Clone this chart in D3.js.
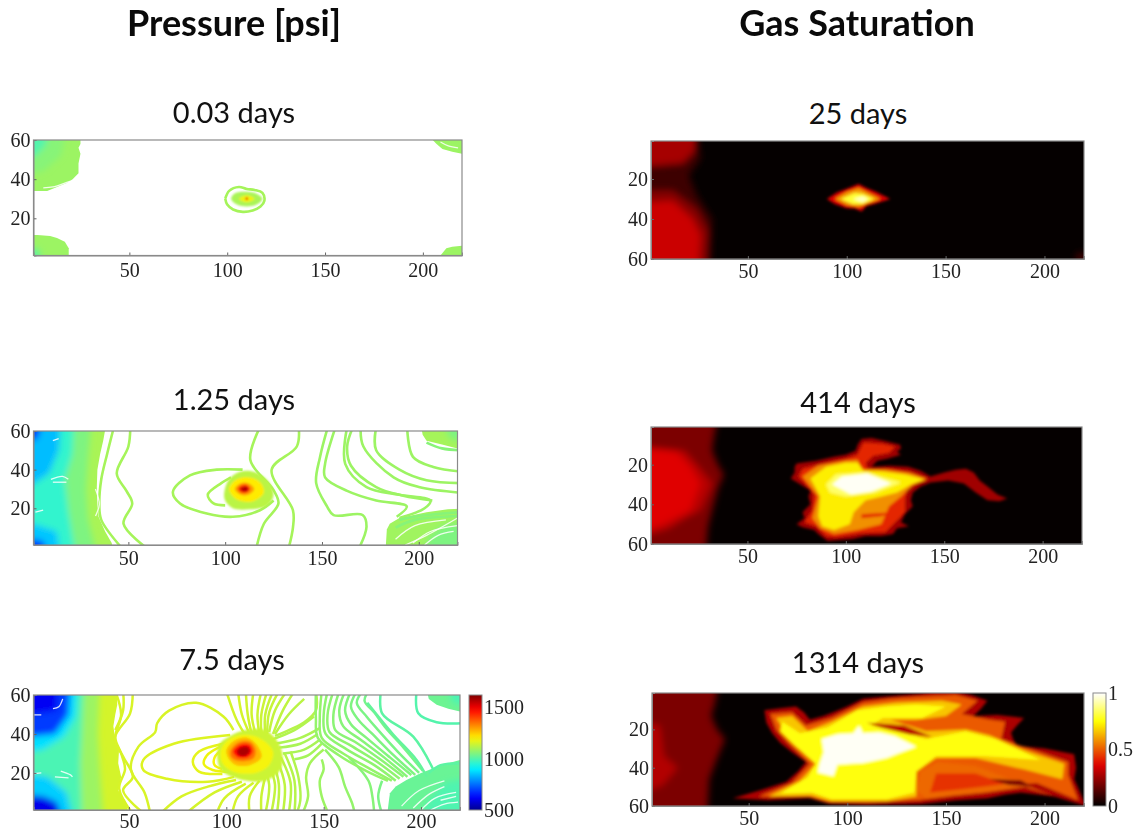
<!DOCTYPE html>
<html><head><meta charset="utf-8">
<script src="https://cdnjs.cloudflare.com/ajax/libs/d3/7.8.5/d3.min.js"></script>
<style>html,body{margin:0;background:#fff}svg{display:block}</style></head>
<body><svg id="c" width="1135" height="833"></svg>
<script>
// ---------- DATA (all in grid cell coordinates) ----------
const columnTitles = ["Pressure [psi]", "Gas Saturation"];
const panelTitles = ["0.03 days", "1.25 days", "7.5 days", "25 days", "414 days", "1314 days"];
const xTicks = [50, 100, 150, 200];
const pressureYTicks = [20, 40, 60];
const saturationYTicks = [20, 40, 60];
const pressureBarTicks = [500, 1000, 1500];
const saturationBarTicks = [0, 0.5, 1];

// [level, polygon]: base = crisp outer regions, soft = smooth field, sharp = crisper regions
const p1Base = [
  [1085, [[-6,66],[25,66],[25,58],[24,56],[25,53],[24,48],[24,43],[21,40],[18,38],[13,36],[8,34],[-6,34]]],
  [1085, [[-6,-6],[19,-6],[19,4.7],[17,8],[13,10],[9.5,11],[3,11.5],[-6,11.5]]],
  [1085, [[205,66],[226,66],[226,53],[220,53],[215,54],[210,55.4],[207,58],[205,60]]],
  [1085, [[209,-6],[226,-6],[226,6],[220,6],[215,5.5],[212,4.7],[209,1]]]
];
const p1Soft = [
  [1060, [[-6,66],[18,66],[15,52],[6,44],[-6,42]]],
  [1000, [[-6,66],[9,66],[7,57],[2,52],[-6,50]]],
  [1020, [[-6,-6],[5,-6],[4,4],[-6,6]]]
];
const p1Sharp = [
  [1100, [[102,30],[104,32.8],[110,33.6],[115,32.6],[118,30],[115,27],[110,26],[105,27]]],
  [1180, [[106,30],[110,31.8],[114,30],[110,28.2]]],
  [1500, [[109.3,30],[110,30.7],[110.7,30],[110,29.3]]]
];
const p1Lines = [
  [1095, [[99,30],[101,34],[106,36],[110,35],[114,34.5],[118,33],[119,29],[117,26],[113,24],[108,23.3],[103,24.5],[100,27],[99,30]]]
];
const p1Streaks = [
  [[6,35.5],[11,36],[17,38],[20,39]], [[209,59],[213,57],[218,56]]
];

const p2Base = [
  [1100, [[-6,66],[39,66],[37,55],[35.4,48],[34,40],[33.7,31],[34,22],[34.6,15.6],[38,8],[41.4,2],[43,-6],[-6,-6]]],
  [1095, [[200.6,66],[226,66],[226,51],[220,51],[212,53],[204,55],[202,58]]],
  [1090, [[182.6,-6],[226,-6],[226,20],[215,19.5],[204,18],[190,15],[185,12],[183.5,9]]]
];
const p2Soft = [
  [1050, [[-6,66],[31,66],[29,45],[28,30],[29,15],[34,-6],[-6,-6]]],
  [960,  [[-6,66],[22,66],[21,48],[17,35],[19,18],[23,-6],[-6,-6]]],
  [840,  [[-6,66],[15,66],[14,50],[9,38],[-6,28]]],
  [850,  [[-6,-6],[15,-6],[13,8],[-6,14]]],
  [680,  [[-6,66],[6,66],[3,56],[-6,53]]],
  [670,  [[-6,-6],[9,-6],[6,3],[-6,5]]],
  [1050, [[212,66],[226,66],[226,54],[216,56]]],
  [1050, [[203,-6],[226,-6],[226,13],[212,11],[205,5]]]
];
const p2Sharp = [
  [1120, [[99.5,28],[102,35],[108,39],[116,38.5],[123,33],[125,27],[122,21.5],[113,19.5],[104,20],[100,24]]],
  [1210, [[102,30],[106,35],[112,36],[118,33.5],[120,28],[114,23.5],[106,24.5]]],
  [1300, [[105,30],[108,33],[112,33],[115,30],[112,27],[108,27]]],
  [1420, [[106.5,30],[108.5,32],[111,32.2],[113,30],[111,28],[108.5,28]]],
  [1560, [[107.8,30],[109.5,31.2],[111,31.2],[112,30],[111,28.8],[109.5,28.8]]]
];
const p2Lines = [
  [1095, [[42,60],[39,48],[36,35],[35,22],[36,14],[47,-1]]],
  [1095, [[51,62],[50,52],[44,38],[49,29],[52,22.5],[47.5,12],[60,-1]]],
  [1095, [[109,40],[95.6,40],[81.8,37],[73,28.5],[76.7,22.5],[90.5,17.3],[104,15.6],[118,19],[125,24]]],
  [1100, [[103,36],[98,33],[91,27],[94,22.5],[100,21.5]]],
  [1095, [[118,62],[113,45],[125,29.4],[127.5,22.5],[120,12],[116,-1]]],
  [1095, [[138,62],[137,52],[124,40],[135,19],[135,10],[132.7,-1]]],
  [1085, [[153,62],[149,46.6],[147,33],[152.6,21],[156,16.5],[171,16.5],[173,10.4],[169,-1]]],
  [1085, [[157,62],[151.6,43],[151.6,36],[163,29],[178,24],[193.8,21],[188.6,15.6]]],
  [1085, [[163,62],[162,43],[173,31],[190,27],[206,24],[203,20],[190,15]]],
  [1085, [[166,62],[163,52],[165,42],[178,31],[192,26.5],[207,24]]],
  [1085, [[170,62],[171.4,52],[187,36],[200,31],[222,28]]],
  [1085, [[178,62],[178,50],[190,40],[204,34.5],[222,33]]],
  [1085, [[194,62],[197,46.6],[207.5,41.4],[222,39]]],
  [1060, [[190,14],[200,16],[222,18]]],
  [1060, [[188,10],[198,14],[222,16]]],
  [1060, [[204,54],[212,51],[222,50]]]
];
const p2Streaks = [
  [[11,55],[14,56]], [[10,35],[16,36.5],[19,35]], [[11,33.5],[18,33.5]], [[2,18],[6,19]],
  [[33,30],[35,22],[33,16]], [[197,2],[206,8],[220,11]], [[193,1],[204,6],[220,15]],
  [[203,1],[210,6],[218,8]], [[188,4],[198,11],[214,14]]
];

const p3Base = [
  [1150, [[-6,66],[43.6,66],[44,55],[43,50],[42,44],[42.8,38.6],[45,33],[44.5,25],[46,18],[44.5,11],[48,6],[51.5,-6],[-6,-6]]],
  [1030, [[202,66],[226,66],[226,51.5],[220,51.5],[214,53],[208,55],[204,58]]],
  [1025, [[182,-6],[226,-6],[226,26.7],[220,26.7],[214,25],[208,23],[200,20],[192.5,16.4],[187,13],[184,9.6]]]
];
const p3Soft = [
  [1085, [[-6,66],[35,66],[34,40],[35,22],[37,-6],[-6,-6]]],
  [990,  [[-6,66],[27,66],[26,45],[25,25],[26,-6],[-6,-6]]],
  [880,  [[-6,66],[23.6,66],[22.7,49],[16.6,38.6],[6,32],[-6,30]]],
  [860,  [[-6,-6],[22,-6],[18,10],[8,18],[-6,20]]],
  [690,  [[-6,66],[20,66],[19,50],[12,40],[-6,38]]],
  [610,  [[-6,66],[14,66],[13,52],[-6,49]]],
  [600,  [[-6,-6],[16.7,-6],[13,5],[6,8],[-6,9]]],
  [990,  [[214,66],[226,66],[226,54],[216,56]]],
  [995,  [[198,-6],[226,-6],[226,18],[212,15],[204,6]]]
];
const p3Sharp = [
  [1140, [[96,34],[102,39],[110,42],[120,42],[128,33],[128,22],[120,16],[106,17],[97,22]]],
  [1190, [[97,31],[101,37],[108,39.5],[117,38],[124,31],[122,24],[115,20],[104,20.5],[98,25]]],
  [1270, [[100,31],[104,36.5],[111,38],[116,34],[118,28],[112,24],[104,24.5]]],
  [1350, [[102,31],[106,35.5],[112,36],[115,32],[114,27.5],[108,26],[103,27.5]]],
  [1470, [[103.5,31],[107,34.5],[112,34.5],[113.5,31],[111,28],[106,28]]],
  [1570, [[105.5,31],[108,33.3],[111,33.3],[112,31],[110,29],[107,29]]]
];
const p3Lines = [
  [1155, [[43,62],[46,50],[43,38],[46,30],[48,22],[45,12],[52,-1]]],
  [1155, [[52,62],[50.6,50.6],[42.8,38],[47,28.4],[52,18],[47,11],[58,-1]]],
  [1155, [[47,62],[47,52],[43,42]]],
  [1155, [[103.7,42],[98.5,49],[84.5,56],[70.6,52],[64.5,45.5],[63.5,41],[54.9,33.5],[51,22],[58,10],[61,-1]]],
  [1160, [[102,39.5],[73,35],[57.4,26.7],[57.4,21.5],[69.6,17],[90.5,15.5],[104,18]]],
  [1170, [[98.5,35],[86,31],[82.8,25.8],[86,20.7],[98,19.5]]],
  [1180, [[97,33.5],[90,29],[88.5,24.5],[93,21.5],[103,20.5]]],
  [1190, [[98,32],[94,28],[94,24],[98,22]]],
  [1155, [[105,16.4],[90.5,13],[77,8],[66,-1]]],
  [1150, [[108,15.5],[94,10],[79,-1]]],
  [1150, [[110,14.5],[99,7],[95,-1]]],
  [1150, [[114,15],[106,8],[103,-1]]],
  [1145, [[117,16],[112,8],[112,-1]]],
  [1140, [[120,18],[118,8],[118,-1]]],
  // lines fanning from the source to the top edge
  [1150, [[100,62],[105.4,47],[110.7,38]]],
  [1150, [[106,62],[108,50],[112,40]]],
  [1145, [[110,62],[111,50],[113,40]]],
  [1145, [[114,62],[113,50],[115,40]]],
  [1140, [[118,62],[116,50],[117,40]]],
  [1140, [[121,62],[118,50],[118,40]]],
  [1135, [[124,62],[120,50],[120,40]]],
  [1135, [[127,62],[122,51],[121,40]]],
  [1130, [[131,62],[125,52],[122,41]]],
  [1125, [[135,62],[129,52],[124,40]]],
  [1120, [[140,58],[132,50],[125,40]]],
  [1115, [[146,62],[146,52],[140,46],[125,39]]],
  [1110, [[145,49],[135,42],[123,37]]],
  [1105, [[148,43],[138,38],[125,35]]],
  [1100, [[147,40],[138,35],[127,33]]],
  [1100, [[148,37],[140,32],[129,30]]],
  [1095, [[149,35],[142,29],[135,27]]],
  // lines below the source
  [1130, [[119,24],[122,14],[120,-1]]],
  [1130, [[122,24],[125,14],[123,-1]]],
  [1125, [[124,26],[127,14],[126,-1]]],
  [1125, [[126,27],[130,14],[129,-1]]],
  [1120, [[128,28],[133,15],[132,-1]]],
  [1115, [[130,30],[135,16],[135,-1]]],
  [1110, [[133,31],[137,18],[138,6],[136,-1]]],
  [1095, [[150,32],[143,25],[141,18],[142,8],[139,-1]]],
  [1085, [[149,27],[150,22],[148,16],[149,8],[152.5,-1]]],
  [1075, [[150.7,32],[157.7,23],[161,13],[164.6,4.5],[166,-1]]],
  [1060, [[163,28],[173,16],[175,8],[176,-1]]],
  [1045, [[180,16],[178,8],[180,-1]]],
  // bundle from the top edge to the lower right
  [1075, [[146,62],[146,48],[147,38],[158,29],[172,21],[183,16]]],
  [1075, [[149,62],[148,48],[149,38],[160,30],[174,22],[185,16]]],
  [1070, [[152,62],[150,50],[151,40],[162,32],[176,24],[187,16]]],
  [1070, [[155,62],[152,50],[153,41],[164,34],[177,26],[189,17]]],
  [1065, [[158,62],[155,50],[156,42],[166,36],[179,27],[191,18]]],
  [1060, [[161,62],[158,52],[160,44],[169,37],[181,28],[193,18]]],
  [1055, [[164,62],[161,52],[164,45],[172,38],[184,28],[195,19]]],
  [1050, [[167,62],[164,54],[168,47],[175,40],[186,29],[197,19]]],
  [1045, [[170,62],[167,56],[172,49],[178,42],[188,31],[199,20]]],
  [1040, [[173,62],[171,57],[176,51],[182,43],[191,33],[201,21]]],
  [1020, [[172.4,56],[185.5,40],[197.7,26.7],[203,18]]],
  [1010, [[179.4,62],[180,50.6],[196,38.6],[206.4,21.5]]],
  [1000, [[197.7,62],[198.6,50.6],[208,46],[222,45.5]]],
  [1010, [[222,25],[210,24],[204,20]]]
];
const p3Streaks = [
  [[11,53],[14,54],[16,58]], [[1,49.8],[5,49.8]], [[15,21],[20,19],[21,18]], [[0,19.5],[5,20]],
  [[12,18],[19,17.5]], [[196,2],[204,9],[212,13]], [[200,1],[207,7],[218,10]], [[210,6],[218,8]],
  [[190,3],[199,11],[212,16]], [[205,1],[212,4],[219,5]]
];

const s1Soft = [
  [0.1, [[-6,-6],[24,-6],[26,10],[20,18],[24,28],[32,40],[31,66],[-6,66]]],
  [0.27, [[-6,-6],[24,-6],[23,6],[17,12],[-6,14]]],
  [0.22, [[-6,26],[12,26],[24,35],[30,46],[29,66],[-6,66]]],
  [0.33, [[-6,32],[12,31],[22,40],[26,48],[25,66],[-6,66]]],
  [0.1, [[216,57],[222,57],[222,62],[216,62]]]
];
const s1Sharp = [
  [0.36, [[90,30],[95,26.8],[101,24.5],[106,22.5],[110,24.5],[115,26.5],[122,30],[114,32.5],[110,33.5],[107.5,36.2],[104,34.7],[100,34.6],[94,32.5]]],
  [0.6, [[94,30],[100,26.5],[106,24.5],[112,27.5],[117,30],[110,32.5],[106,34],[100,33]]],
  [0.8, [[97,30],[104,27],[108,27.4],[114,30],[108,32.5],[103,32.5]]],
  [0.94, [[103,30],[108,28.6],[111,30],[108,31.6]]]
];
const s2Soft = [
  [0.2, [[-6,-6],[35.4,-6],[33,6],[32,12.7],[35,20],[38,25],[35,32],[33,39.5],[30,51],[28.6,66],[-6,66]]],
  [0.3, [[-6,11],[18,13],[26,22],[32,29.5],[26,43],[18,47],[10,52],[-6,57]]],
  [0.37, [[-6,11],[14,13.6],[21,21],[26,29.5],[21,43],[7,50],[-6,55]]]
];
const s2Sharp = [
  [0.26, [[108,7],[113,6.5],[120,8],[127.6,10],[128,12],[126,13.5],[128,15],[121,17],[116,18],[113,21],[122,20.5],[131.6,21],[138,23],[143,26],[150,24],[156,22.5],[161,22],[165,24],[168,28],[172,31],[177,35],[182,37],[178,38.5],[172,38],[166,34],[160,29.5],[152,28],[143,29],[138,31],[134,34],[133,38],[134,41],[130,45],[128,49],[132,51],[126,52],[124,55],[118,56],[110,56],[103.5,57.5],[97,58],[90.8,58.5],[86,55],[84,53],[78,51.5],[75,50],[79,47],[78,44],[82,40],[81,36],[82,33],[77,30],[72,27],[74,24],[74,21],[75,19.4],[85,18],[94,16],[100,15],[105,13],[106,10]]],
  [0.42, [[109,9],[118,9.5],[125,11],[122,14],[114,15.5],[110,19],[111,22],[122,22],[132,23.5],[142,27],[136,29.5],[131,33],[130,38],[130,44],[124,50],[120,54],[108,54.5],[95,56.5],[90,56],[85,51],[79,49],[83,43],[84,35],[78,28],[76,26],[78,22],[88,19.5],[100,17],[106,15]]],
  [0.58, [[78,26],[86,20.5],[100,18],[106,17.5],[108,22.5],[120,22.5],[133,24.5],[141,27.5],[134,30],[128,36],[122,41],[118,50],[106,53],[94,55],[87,52],[83,47],[86,36]]],
  [0.72, [[82,27],[90,21],[100,19],[106,19],[109,23],[118,23.5],[130,25],[140,27.5],[133,30],[126,34],[118,36],[110,38],[104,44],[102,50],[94,53],[88,51],[86,46],[87,36]]],
  [0.42, [[108,45],[124,44],[118,46],[108,47]]],
  [0.85, [[90,30],[95,25],[110,24],[128,29],[115,34],[100,36],[92,34]]],
  [0.99, [[93,30],[98,26],[111,24.5],[123,29.5],[113,33.5],[102.7,35]]]
];
const s3Soft = [
  [0.2, [[-6,-6],[35,-6],[33,6],[31,13],[34,20],[38,25],[34,35],[30,46],[29,66],[-6,66]]],
  [0.29, [[-6,16],[5,18],[7,34],[14,40],[6.4,49],[-6,54]]]
];
const s3Sharp = [
  [0.28, [[58,10],[66,9],[74,8],[78,11],[81,15],[88,13],[93,11],[100,8],[108,4],[118,3],[128,2],[137,1.3],[145,0],[154,0],[163,2],[171,5],[168,9],[164,13],[176,12.5],[189.6,14],[186,18],[183,21.6],[184,25],[186,28.5],[200,30],[215,33],[216,40],[215,46],[218,53],[221,60],[205,55],[188,53],[180,54],[171,56],[155,57],[137,59],[110,59.5],[91,59],[81,56],[60,57],[42,56],[55,52],[69,47.5],[75,42],[79,37],[72,32],[66,27],[62,22],[59,16.5]]],
  [0.5, [[61,12],[72,11],[79,18],[92,14],[108,6],[122,4],[137,3],[155,2],[166,5],[158,12],[172,15],[180,16],[178,25],[192,30],[212,37],[212,44],[217,57],[196,48],[175,50],[150,55],[136,57],[110,58],[90,58],[80,55],[55,55],[72,48],[81,38],[70,27],[64,20]]],
  [0.66, [[64,14],[72,13],[80,21],[92,16],[108,8],[125,6],[148,5],[158,7],[150,13],[135,15],[122,15],[140,21],[160,20],[172,23],[190,31],[210,38],[209,46],[190,41],[165,35],[145,35],[135,42],[135,55],[120,57.5],[92,57.5],[82,54.5],[60,55],[76,47],[84,38],[72,27]]],
  [0.76, [[67,16],[76,22],[90,19],[105,10],[120,8],[135,7],[150,8],[138,14],[118,14],[112,18],[125,21],[140,25],[160,21],[175,25],[198,36],[170,34],[145,34],[135,42],[134,53],[120,56.5],[92,56.5],[82,53],[66,53.5],[80,45],[84,38],[72,27],[66,21]]],
  [0.52, [[137,42],[146,37],[165,39],[185,47],[205,55],[190,50],[170,53],[140,56],[135,52]]],
  [0.44, [[145,43],[165,43],[180,48.5],[160,51],[142,53]]],
  [0.2, [[172,46],[188,46.5],[194,50],[182,49]]],
  [0.3, [[110,16.5],[129,18],[143,24],[131,22.5],[117,19]]],
  [0.99, [[87,25],[95,22.5],[103,22],[106,18],[108,22],[116,21.5],[124,23.5],[135,29],[126,32.5],[120,35],[113,36.5],[108,37.5],[101,38],[95,38.5],[93,44.5],[85,42.5],[86,38],[88,32]]]
];

// ---------- COLOUR MAPS ----------
const jetT = [0, .11, .36, .625, .875, 1];
const jetC = ["#00008f", "#0000ff", "#00f4ff", "#fff400", "#ff0000", "#800000"];
const hotT = [0, .365, .746, 1];
const hotC = ["#000000", "#e00000", "#ffff00", "#ffffff"];
const jetInner = d3.scaleLinear().domain(jetT).range(jetC).clamp(true);
const hotInner = d3.scaleLinear().domain(hotT).range(hotC).clamp(true);
const jetLevel = d3.scaleLinear().domain([500, 1620]).range([0, 1]);
const jet = v => jetInner(jetLevel(v));
const hot = v => hotInner(v);

// ---------- LAYOUT ----------
const svg = d3.select("#c");
const defs = svg.append("defs");
[["soft", 3.2], ["satsoft", 3.6], ["base", 0.6], ["sharp", 0.9], ["sat", 1.5], ["lines", 0.4], ["txt", 0.3]].forEach(([id, s]) => {
  defs.append("filter").attr("id", id).attr("x", "-10%").attr("y", "-10%").attr("width", "120%").attr("height", "120%")
    .append("feGaussianBlur").attr("stdDeviation", s);
});
const serif = "'Liberation Serif', serif";
const gray = "#8a8a8a";

function axes(g, x, y, yTicks, box, pad) {
  const ax = g.append("g").attr("transform", `translate(0,${box.b})`)
    .call(d3.axisBottom(x).tickValues(xTicks).tickSize(-3).tickPadding(pad));
  const ay = g.append("g").attr("transform", `translate(${box.l},0)`)
    .call(d3.axisLeft(y).tickValues(yTicks).tickSize(-3).tickPadding(3));
  g.append("rect").attr("x", box.l).attr("y", box.t).attr("width", box.r - box.l).attr("height", box.b - box.t)
    .attr("fill", "none").attr("stroke", gray).attr("stroke-width", 1.2);
  [ax, ay].forEach(a => {
    a.select(".domain").attr("stroke", gray);
    a.selectAll("line").attr("stroke", "#666");
    a.selectAll("text").attr("font-family", serif).attr("font-size", 20).attr("fill", "#222").attr("filter", "url(#txt)");
  });
}

function panel(i, box, yRange, cfg) {
  const x = d3.scaleLinear().domain([1, 220]).range([box.l, box.r]);
  const y = d3.scaleLinear().domain([1, 60]).range(yRange);
  const id = "clip" + i;
  defs.append("clipPath").attr("id", id).append("rect")
    .attr("x", box.l).attr("y", box.t).attr("width", box.r - box.l).attr("height", box.b - box.t);
  const g = svg.append("g");
  const plot = g.append("g").attr("clip-path", `url(#${id})`);
  plot.append("rect").attr("x", box.l).attr("y", box.t).attr("width", box.r - box.l).attr("height", box.b - box.t)
    .attr("fill", cfg.bg);
  const poly = d3.line().x(d => x(d[0])).y(d => y(d[1])).curve(d3.curveLinearClosed);
  const smooth = d3.line().x(d => x(d[0])).y(d => y(d[1])).curve(d3.curveCatmullRom.alpha(0.5));
  const blob = d3.line().x(d => x(d[0])).y(d => y(d[1])).curve(cfg.blobCurve);
  plot.append("g").attr("filter", "url(#base)").selectAll("path").data(cfg.base || []).join("path")
    .attr("d", d => poly(d[1])).attr("fill", d => cfg.color(d[0]));
  plot.append("g").attr("filter", cfg.softFilter).selectAll("path").data(cfg.soft).join("path")
    .attr("d", d => poly(d[1])).attr("fill", d => cfg.color(d[0]));
  if (cfg.lines) {
    plot.append("g").attr("filter", "url(#lines)").selectAll("path").data(cfg.lines).join("path")
      .attr("d", d => smooth(d[1])).attr("fill", "none").attr("stroke", d => cfg.color(d[0]))
      .attr("stroke-width", cfg.lw).attr("stroke-linejoin", "round");
    plot.append("g").attr("filter", "url(#lines)").selectAll("path").data(cfg.streaks).join("path")
      .attr("d", smooth).attr("fill", "none").attr("stroke", "#fff").attr("stroke-width", 1.3).attr("opacity", 0.85);
  }
  plot.append("g").attr("filter", cfg.sharpFilter).selectAll("path").data(cfg.sharp).join("path")
    .attr("d", d => blob(d[1])).attr("fill", d => cfg.color(d[0]));
  axes(g, x, y, cfg.yTicks, box, cfg.pad);
  svg.append("text").attr("x", cfg.tx).attr("y", cfg.ty).attr("text-anchor", "middle")
    .attr("font-family", "Lato, sans-serif").attr("font-size", 29).attr("fill", "#111").text(panelTitles[i]);
}

const closedSmooth = d3.curveCatmullRomClosed.alpha(0.5);
const closedLin = d3.curveLinearClosed;
const pBase = { bg: "#fff", color: jet, yTicks: pressureYTicks, softFilter: "url(#soft)", sharpFilter: "url(#sharp)", blobCurve: closedSmooth };
const sBase = { bg: "#050000", color: hot, yTicks: saturationYTicks, softFilter: "url(#satsoft)", sharpFilter: "url(#sat)", blobCurve: closedLin };

panel(0, { l: 33.5, r: 462, t: 140, b: 255.5 }, [255.5, 140], { ...pBase, base: p1Base, soft: p1Soft, sharp: p1Sharp, lines: p1Lines, streaks: p1Streaks, lw: 2.6, pad: 7, tx: 234, ty: 123 });
panel(1, { l: 33.5, r: 457.5, t: 431, b: 545 }, [545, 431], { ...pBase, base: p2Base, soft: p2Soft, sharp: p2Sharp, lines: p2Lines, streaks: p2Streaks, lw: 2.6, pad: 6, tx: 234, ty: 410 });
panel(2, { l: 33.5, r: 460, t: 695, b: 810 }, [810, 695], { ...pBase, base: p3Base, soft: p3Soft, sharp: p3Sharp, lines: p3Lines, streaks: p3Streaks, lw: 2.5, pad: 4, tx: 232, ty: 670 });
panel(3, { l: 651, r: 1084, t: 141, b: 259 }, [141, 259], { ...sBase, soft: s1Soft, sharp: s1Sharp, pad: 5, tx: 858, ty: 124 });
panel(4, { l: 651, r: 1082, t: 427, b: 544 }, [427, 544], { ...sBase, soft: s2Soft, sharp: s2Sharp, pad: 5, tx: 858, ty: 413 });
panel(5, { l: 652, r: 1084, t: 693, b: 806 }, [693, 806], { ...sBase, soft: s3Soft, sharp: s3Sharp, pad: 5, tx: 858, ty: 673 });

// column titles
svg.selectAll(".ct").data(columnTitles).join("text")
  .attr("x", (d, i) => [234, 857][i]).attr("y", 36).attr("text-anchor", "middle")
  .attr("font-family", "Lato, sans-serif").attr("font-weight", 700).attr("font-size", 36).attr("fill", "#0a0a0a").text(d => d);

// colour bars
function colorbar(id, box, domain, ticks, color, fmt) {
  const s = d3.scaleLinear().domain(domain).range([box.b, box.t]);
  const grad = defs.append("linearGradient").attr("id", id).attr("x1", 0).attr("y1", 1).attr("x2", 0).attr("y2", 0);
  d3.range(0, 1.0001, 0.05).forEach(f => {
    grad.append("stop").attr("offset", f).attr("stop-color", color(domain[0] + f * (domain[1] - domain[0])));
  });
  svg.append("rect").attr("x", box.l).attr("y", box.t).attr("width", box.r - box.l).attr("height", box.b - box.t)
    .attr("fill", `url(#${id})`).attr("stroke", gray).attr("stroke-width", 1);
  const a = svg.append("g").attr("transform", `translate(${box.r},0)`)
    .call(d3.axisRight(s).tickValues(ticks).tickSize(0).tickPadding(2).tickFormat(fmt));
  a.select(".domain").remove();
  a.selectAll("text").attr("font-family", serif).attr("font-size", 20).attr("fill", "#222").attr("filter", "url(#txt)");
}
colorbar("barP", { l: 469, r: 482, t: 695, b: 810 }, [500, 1620], pressureBarTicks, jet, d3.format("d"));
colorbar("barS", { l: 1093, r: 1106, t: 693, b: 806 }, [0, 1], saturationBarTicks, hot, d3.format("~g"));
</script></body></html>
